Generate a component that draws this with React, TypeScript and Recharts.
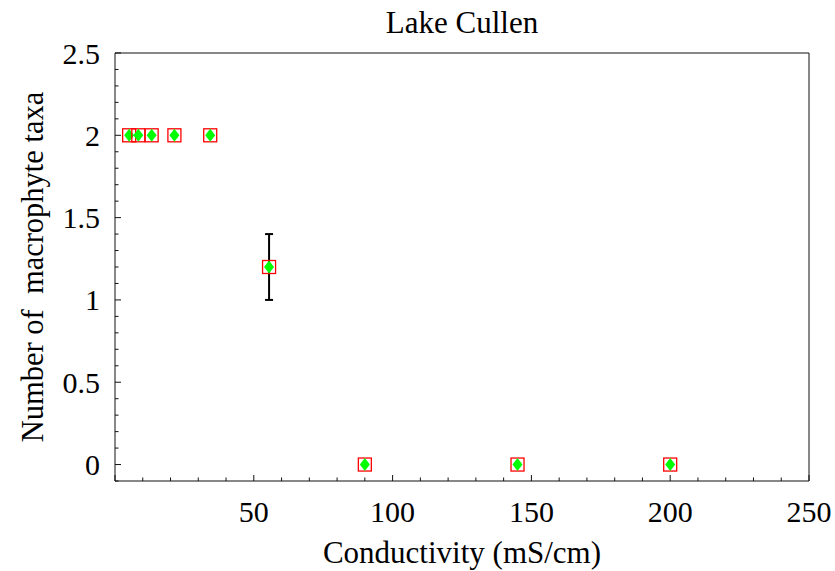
import React from 'react';
import { ScatterChart, Scatter, XAxis, YAxis, ErrorBar, Label } from 'recharts';

const conductivity = [5.1, 8.4, 13.2, 21.4, 34.3, 55.5, 90, 145, 200];
const taxa = [2, 2, 2, 2, 2, 1.2, 0, 0, 0];
const taxaError = [0, 0, 0, 0, 0, 0.2, 0, 0, 0];

const xTicks = [0, 10, 20, 30, 40, 50, 60, 70, 80, 90, 100, 110, 120, 130, 140, 150, 160, 170, 180, 190, 200, 210, 220, 230, 240, 250];
const xLabels = [50, 100, 150, 200, 250];
const yTicks = [-0.1, 0, 0.1, 0.2, 0.3, 0.4, 0.5, 0.6, 0.7, 0.8, 0.9, 1, 1.1, 1.2, 1.3, 1.4, 1.5, 1.6, 1.7, 1.8, 1.9, 2, 2.1, 2.2, 2.3, 2.4, 2.5];
const yLabels = [0, 0.5, 1, 1.5, 2, 2.5];

const title = 'Lake Cullen';
const xTitle = 'Conductivity (mS/cm)';
const yTitle = 'Number of  macrophyte taxa';

const data = conductivity.map((c, i) => ({ x: c, y: taxa[i], err: taxaError[i] }));

const FONT = '"Liberation Serif", "Times New Roman", serif';
const AXIS = '#111';

const isLabelX = (v: number) => xLabels.some((l) => Math.abs(l - v) < 1e-9);
const isLabelY = (v: number) => yLabels.some((l) => Math.abs(l - v) < 1e-9);

const BottomTick = (props: any) => {
  const { x, y, payload } = props;
  const v = payload.value as number;
  const major = Math.abs(v / 50 - Math.round(v / 50)) < 1e-9;
  return (
    <g>
      <line x1={x} x2={x} y1={y} y2={y - (major ? 6 : 3.5)} stroke={AXIS} strokeWidth={1} />
      {isLabelX(v) && (
        <text x={x} y={y + 40.5} textAnchor="middle" fontFamily={FONT} fontSize={30} fill="#000">
          {String(v)}
        </text>
      )}
    </g>
  );
};

const TopTick = (props: any) => {
  const { x, y, payload } = props;
  const v = payload.value as number;
  const major = Math.abs(v / 50 - Math.round(v / 50)) < 1e-9;
  return <line x1={x} x2={x} y1={y} y2={y + (major ? 6 : 3.5)} stroke={AXIS} strokeWidth={1} />;
};

const LeftTick = (props: any) => {
  const { x, y, payload } = props;
  const v = payload.value as number;
  const major = isLabelY(v);
  return (
    <g>
      <line x1={x} x2={x + (major ? 6 : 3.5)} y1={y} y2={y} stroke={AXIS} strokeWidth={1} />
      {major && (
        <text x={x - 15} y={y + 10.5} textAnchor="end" fontFamily={FONT} fontSize={30} fill="#000">
          {String(v)}
        </text>
      )}
    </g>
  );
};

const RightTick = (props: any) => {
  const { x, y, payload } = props;
  const v = payload.value as number;
  const major = isLabelY(v);
  return <line x1={x} x2={x - (major ? 6 : 3.5)} y1={y} y2={y} stroke={AXIS} strokeWidth={1} />;
};

const Marker = (props: any) => {
  const { cx, cy } = props;
  if (cx == null || cy == null) return null;
  return (
    <g>
      <rect x={cx - 6.5} y={cy - 6.5} width={13} height={13} fill="none" stroke="#ff0000" strokeWidth={1.3} />
      <polygon
        points={`${cx},${cy - 6.5} ${cx + 5},${cy} ${cx},${cy + 6.5} ${cx - 5},${cy}`}
        fill="#00ff00"
      />
    </g>
  );
};

export default function App() {
  return (
    <div style={{ position: 'absolute', left: 0, top: 0 }}>
      <ScatterChart width={835} height={571} margin={{ top: 52, right: 25, bottom: 0, left: 0 }}>
        <XAxis
          type="number"
          dataKey="x"
          domain={[0, 250]}
          ticks={xTicks}
          interval={0}
          height={90}
          tickSize={0}
          tickMargin={0}
          tickLine={false}
          axisLine={{ stroke: AXIS, strokeWidth: 1 }}
          tick={<BottomTick />}
        >
          <Label
            content={(p: any) => {
              const vb = p.viewBox;
              return (
                <text x={vb.x + vb.width / 2} y={vb.y + 82} textAnchor="middle" fontFamily={FONT} fontSize={31} fill="#000">
                  {xTitle}
                </text>
              );
            }}
          />
        </XAxis>
        <XAxis
          xAxisId="top"
          orientation="top"
          type="number"
          dataKey="x"
          domain={[0, 250]}
          ticks={xTicks}
          interval={0}
          height={1}
          tickSize={0}
          tickMargin={0}
          tickLine={false}
          axisLine={{ stroke: AXIS, strokeWidth: 1 }}
          tick={<TopTick />}
        >
          <Label
            content={(p: any) => {
              const vb = p.viewBox;
              return (
                <text x={vb.x + vb.width / 2} y={33} textAnchor="middle" fontFamily={FONT} fontSize={31} fill="#000">
                  {title}
                </text>
              );
            }}
          />
        </XAxis>
        <YAxis
          type="number"
          dataKey="y"
          domain={[-0.1, 2.5]}
          ticks={yTicks}
          interval={0}
          width={115}
          tickSize={0}
          tickMargin={0}
          tickLine={false}
          axisLine={{ stroke: AXIS, strokeWidth: 1 }}
          tick={<LeftTick />}
        >
          <Label
            content={(p: any) => {
              const vb = p.viewBox;
              const cy = vb.y + vb.height / 2;
              return (
                <text
                  x={43}
                  y={cy}
                  transform={`rotate(-90, 43, ${cy})`}
                  textAnchor="middle"
                  fontFamily={FONT}
                  fontSize={30.5}
                  fill="#000"
                  style={{ whiteSpace: 'pre' }}
                >
                  {yTitle}
                </text>
              );
            }}
          />
        </YAxis>
        <YAxis
          yAxisId="right"
          orientation="right"
          type="number"
          dataKey="y"
          domain={[-0.1, 2.5]}
          ticks={yTicks}
          interval={0}
          width={1}
          tickSize={0}
          tickMargin={0}
          tickLine={false}
          axisLine={{ stroke: AXIS, strokeWidth: 1 }}
          tick={<RightTick />}
        />
        <Scatter data={data} shape={<Marker />} isAnimationActive={false}>
          <ErrorBar dataKey="err" direction="y" width={4} stroke="#000" strokeWidth={2} />
        </Scatter>
      </ScatterChart>
    </div>
  );
}
